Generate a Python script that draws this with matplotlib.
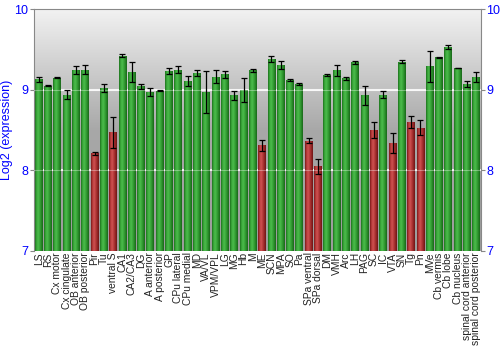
import numpy as np
import matplotlib
matplotlib.use("Agg")
import matplotlib.pyplot as plt
from matplotlib.colors import LinearSegmentedColormap

plt.rcParams['font.family'] = ['Liberation Sans', 'DejaVu Sans']

# Regions, mean expression (log2) and error
regions = ['LS', 'RS', 'Cx motor', 'Cx cingulate', 'OB anterior', 'OB posterior', 'Pir', 'Tu',
           'ventral S', 'CA1', 'CA2/CA3', 'DG', 'A anterior', 'A posterior', 'GP', 'CPu lateral',
           'CPu medial', 'MD', 'VA/VL', 'VPM/VPL', 'LG', 'MG', 'Hb', 'M', 'ME', 'SCN', 'MPA', 'SO',
           'Pa', 'SPa ventral', 'SPa dorsal', 'DM', 'VMH', 'Arc', 'LH', 'PAG', 'SC', 'IC', 'VTA',
           'SN', 'Tg', 'Pn', 'MVe', 'Cb vermis', 'Cb lobe', 'Cb nucleus', 'spinal cord anterior',
           'spinal cord posterior']
values = [9.13, 9.05, 9.15, 8.94, 9.24, 9.25, 8.21, 9.02,
          8.47, 9.42, 9.22, 9.04, 8.97, 8.99, 9.23, 9.25,
          9.11, 9.21, 8.97, 9.16, 9.19, 8.93, 9.00, 9.24, 8.31, 9.38, 9.31, 9.12,
          9.07, 8.37, 8.05, 9.18, 9.24, 9.14, 9.34, 8.93, 8.50, 8.94, 8.34,
          9.35, 8.60, 8.53, 9.29, 9.40, 9.53, 9.27, 9.07,
          9.16]
errors = [0.03, 0.01, 0.005, 0.06, 0.05, 0.06, 0.02, 0.05,
          0.19, 0.02, 0.12, 0.03, 0.05, 0.01, 0.04, 0.04,
          0.06, 0.04, 0.26, 0.08, 0.04, 0.06, 0.15, 0.02, 0.07, 0.04, 0.05, 0.01,
          0.01, 0.03, 0.09, 0.01, 0.07, 0.02, 0.02, 0.12, 0.10, 0.04, 0.12,
          0.02, 0.08, 0.09, 0.19, 0.01, 0.03, 0.005, 0.04,
          0.06]
low_regions = ['Pir', 'ventral S', 'ME', 'SPa ventral', 'SPa dorsal', 'SC', 'VTA', 'Tg', 'Pn']

green_cmap = LinearSegmentedColormap.from_list(
    'g', ['#1c6f1c', '#3aa83a', '#4cbc4c', '#3aa63a', '#278a27', '#1a651a'])
red_cmap = LinearSegmentedColormap.from_list(
    'r', ['#7a1818', '#b83c3c', '#cf5252', '#b53a3a', '#952626', '#6e1414'])

fig = plt.figure(figsize=(5, 3.5), dpi=100)
ax = fig.add_axes([0.068, 0.283, 0.894, 0.691])

ymin, ymax = 7, 10
x = np.arange(len(regions))
xlo, xhi = -0.5, len(regions) - 0.5

# vertical gray background gradient, light at the top
bg = LinearSegmentedColormap.from_list('bg', ['#f2f2f2', '#a8a8a8', '#9c9c9c'])
grad = np.linspace(0, 1, 256).reshape(-1, 1)
ax.imshow(grad, cmap=bg, aspect='auto', extent=(xlo, xhi, ymin, ymax),
          origin='upper', zorder=0, interpolation='bicubic')

for yv in (8, 9):
    ax.axhline(yv, color='white', lw=1.5, alpha=0.85, zorder=1)

bar_w = 0.84
bars = ax.bar(x, np.array(values) - ymin, bottom=ymin, width=bar_w, color='none',
              edgecolor='none', zorder=2)
hgrad = np.linspace(0, 1, 64).reshape(1, -1)
for name, bar in zip(regions, bars):
    cmap = red_cmap if name in low_regions else green_cmap
    x0 = bar.get_x()
    im = ax.imshow(hgrad, cmap=cmap, aspect='auto',
                   extent=(x0, x0 + bar.get_width(), ymin, bar.get_y() + bar.get_height()),
                   zorder=2, interpolation='bilinear')
    im.set_clip_path(bar)

# faint grid over the bars
for yv in (8, 9):
    ax.axhline(yv, color='white', lw=0.8, alpha=0.35, zorder=3)

ax.errorbar(x, values, yerr=errors, fmt='none', ecolor='black', elinewidth=0.9,
            capsize=2.5, capthick=0.9, zorder=4)

ax.set_xlim(xlo, xhi)
ax.set_ylim(ymin, ymax)

ax.set_xticks(x)
ax.set_xticklabels(regions, rotation=90, fontsize=7.4, color='#222222')
ax.tick_params(axis='x', length=0, pad=1)
ax.set_yticks([7, 8, 9, 10])
ax.tick_params(axis='y', colors='#888888', labelcolor='blue', labelsize=9, length=3,
               pad=1, left=True, right=True, labelleft=True, labelright=True)
ax.set_ylabel('Log2 (expression)', color='blue', fontsize=9)
ax.yaxis.set_label_coords(-0.046, 0.5)

for side in ('left', 'right', 'top'):
    ax.spines[side].set_color('#888888')
ax.spines['bottom'].set_visible(False)

fig.savefig('out.png', dpi=100)
